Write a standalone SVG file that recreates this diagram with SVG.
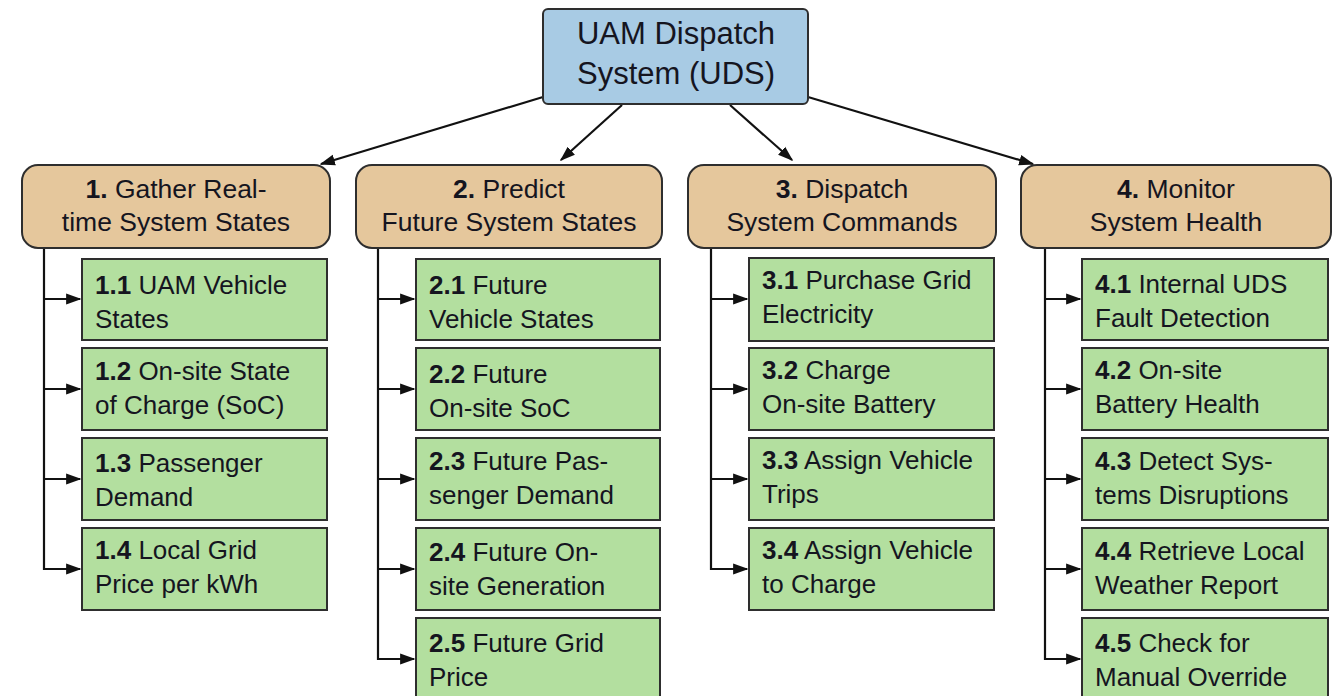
<svg xmlns="http://www.w3.org/2000/svg" width="1337" height="696" viewBox="0 0 1337 696">
  <style>
    text { font-family: "Liberation Sans", Arial, sans-serif; fill: #15151f; }
    .root rect { fill: #a8cbe4; stroke: #2e2e2e; stroke-width: 2; }
    .root text { font-size: 31px; text-anchor: middle; }
    .task rect { fill: #e5c79c; stroke: #2e2e2e; stroke-width: 2; }
    .task text { font-size: 26.5px; text-anchor: middle; }
    .sub rect { fill: #b3df9f; stroke: #2e2e2e; stroke-width: 2; }
    .sub text { font-size: 26px; }
    .num { font-weight: bold; }
    .conn path { fill: none; stroke: #111; stroke-width: 2.2; }
    .conn .a { marker-end: url(#arr); }
  </style>
  <defs>
    <marker id="arr" viewBox="0 0 10 10" refX="9" refY="5" markerWidth="7" markerHeight="7" orient="auto" markerUnits="strokeWidth">
      <path d="M0,1.5 L10,5 L0,8.5 z" fill="#111"/>
    </marker>
  </defs>

  <rect width="1337" height="696" fill="#ffffff"/>

  <!-- connectors -->
  <g class="conn">
    <path class="a" d="M543,97 L321,164"/>
    <path class="a" d="M622,105 L561,160"/>
    <path class="a" d="M730,105 L792,160"/>
    <path class="a" d="M808,97 L1033,164"/>

    <path d="M44,248 V569 H48"/>
    <path class="a" d="M44,299 H80"/>
    <path class="a" d="M44,389 H80"/>
    <path class="a" d="M44,479 H80"/>
    <path class="a" d="M44,569 H80"/>

    <path d="M378,248 V659 H382"/>
    <path class="a" d="M378,299 H414"/>
    <path class="a" d="M378,389 H414"/>
    <path class="a" d="M378,479 H414"/>
    <path class="a" d="M378,569 H414"/>
    <path class="a" d="M378,659 H414"/>

    <path d="M711,248 V569 H715"/>
    <path class="a" d="M711,299 H747"/>
    <path class="a" d="M711,389 H747"/>
    <path class="a" d="M711,479 H747"/>
    <path class="a" d="M711,569 H747"/>

    <path d="M1045,248 V659 H1049"/>
    <path class="a" d="M1045,299 H1080"/>
    <path class="a" d="M1045,389 H1080"/>
    <path class="a" d="M1045,479 H1080"/>
    <path class="a" d="M1045,569 H1080"/>
    <path class="a" d="M1045,659 H1080"/>
  </g>

  <!-- root -->
  <g id="uds" class="root">
    <rect x="543" y="9" width="265" height="95" rx="5"/>
    <text x="676" y="44">UAM Dispatch</text>
    <text x="676" y="84">System (UDS)</text>
  </g>

  <!-- top-level functions -->
  <g id="f1" class="task">
    <rect x="22" y="165" width="308" height="83" rx="16"/>
    <text x="176" y="198"><tspan class="num">1.</tspan> Gather Real-</text>
    <text x="176" y="231">time System States</text>
  </g>
  <g id="f2" class="task">
    <rect x="356" y="165" width="306" height="83" rx="16"/>
    <text x="509" y="198"><tspan class="num">2.</tspan> Predict</text>
    <text x="509" y="231">Future System States</text>
  </g>
  <g id="f3" class="task">
    <rect x="688" y="165" width="308" height="83" rx="16"/>
    <text x="842" y="198"><tspan class="num">3.</tspan> Dispatch</text>
    <text x="842" y="231">System Commands</text>
  </g>
  <g id="f4" class="task">
    <rect x="1021" y="165" width="310" height="83" rx="16"/>
    <text x="1176" y="198"><tspan class="num">4.</tspan> Monitor</text>
    <text x="1176" y="231">System Health</text>
  </g>

  <!-- column 1 -->
  <g id="n1_1" class="sub">
    <rect x="82" y="259" width="245" height="81"/>
    <text x="95" y="294"><tspan class="num">1.1</tspan> UAM Vehicle</text>
    <text x="95" y="328">States</text>
  </g>
  <g id="n1_2" class="sub">
    <rect x="82" y="348" width="245" height="82"/>
    <text x="95" y="380"><tspan class="num">1.2</tspan> On-site State</text>
    <text x="95" y="414">of Charge (SoC)</text>
  </g>
  <g id="n1_3" class="sub">
    <rect x="82" y="438" width="245" height="82"/>
    <text x="95" y="472"><tspan class="num">1.3</tspan> Passenger</text>
    <text x="95" y="506">Demand</text>
  </g>
  <g id="n1_4" class="sub">
    <rect x="82" y="528" width="245" height="82"/>
    <text x="95" y="559"><tspan class="num">1.4</tspan> Local Grid</text>
    <text x="95" y="593">Price per kWh</text>
  </g>

  <!-- column 2 -->
  <g id="n2_1" class="sub">
    <rect x="416" y="259" width="244" height="81"/>
    <text x="429" y="294"><tspan class="num">2.1</tspan> Future</text>
    <text x="429" y="328">Vehicle States</text>
  </g>
  <g id="n2_2" class="sub">
    <rect x="416" y="348" width="244" height="82"/>
    <text x="429" y="383"><tspan class="num">2.2</tspan> Future</text>
    <text x="429" y="417">On-site SoC</text>
  </g>
  <g id="n2_3" class="sub">
    <rect x="416" y="438" width="244" height="82"/>
    <text x="429" y="470"><tspan class="num">2.3</tspan> Future Pas-</text>
    <text x="429" y="504">senger Demand</text>
  </g>
  <g id="n2_4" class="sub">
    <rect x="416" y="528" width="244" height="82"/>
    <text x="429" y="561"><tspan class="num">2.4</tspan> Future On-</text>
    <text x="429" y="595">site Generation</text>
  </g>
  <g id="n2_5" class="sub">
    <rect x="416" y="618" width="244" height="88"/>
    <text x="429" y="652"><tspan class="num">2.5</tspan> Future Grid</text>
    <text x="429" y="686">Price</text>
  </g>

  <!-- column 3 -->
  <g id="n3_1" class="sub">
    <rect x="749" y="258" width="245" height="83"/>
    <text x="762" y="289"><tspan class="num">3.1</tspan> Purchase Grid</text>
    <text x="762" y="323">Electricity</text>
  </g>
  <g id="n3_2" class="sub">
    <rect x="749" y="348" width="245" height="82"/>
    <text x="762" y="379"><tspan class="num">3.2</tspan> Charge</text>
    <text x="762" y="413">On-site Battery</text>
  </g>
  <g id="n3_3" class="sub">
    <rect x="749" y="438" width="245" height="82"/>
    <text x="762" y="469"><tspan class="num">3.3</tspan> Assign Vehicle</text>
    <text x="762" y="503">Trips</text>
  </g>
  <g id="n3_4" class="sub">
    <rect x="749" y="528" width="245" height="82"/>
    <text x="762" y="559"><tspan class="num">3.4</tspan> Assign Vehicle</text>
    <text x="762" y="593">to Charge</text>
  </g>

  <!-- column 4 -->
  <g id="n4_1" class="sub">
    <rect x="1082" y="259" width="246" height="81"/>
    <text x="1095" y="293"><tspan class="num">4.1</tspan> Internal UDS</text>
    <text x="1095" y="327">Fault Detection</text>
  </g>
  <g id="n4_2" class="sub">
    <rect x="1082" y="348" width="246" height="82"/>
    <text x="1095" y="379"><tspan class="num">4.2</tspan> On-site</text>
    <text x="1095" y="413">Battery Health</text>
  </g>
  <g id="n4_3" class="sub">
    <rect x="1082" y="438" width="246" height="82"/>
    <text x="1095" y="470"><tspan class="num">4.3</tspan> Detect Sys-</text>
    <text x="1095" y="504">tems Disruptions</text>
  </g>
  <g id="n4_4" class="sub">
    <rect x="1082" y="528" width="246" height="82"/>
    <text x="1095" y="560"><tspan class="num">4.4</tspan> Retrieve Local</text>
    <text x="1095" y="594">Weather Report</text>
  </g>
  <g id="n4_5" class="sub">
    <rect x="1082" y="618" width="246" height="88"/>
    <text x="1095" y="652"><tspan class="num">4.5</tspan> Check for</text>
    <text x="1095" y="686">Manual Override</text>
  </g>
</svg>
